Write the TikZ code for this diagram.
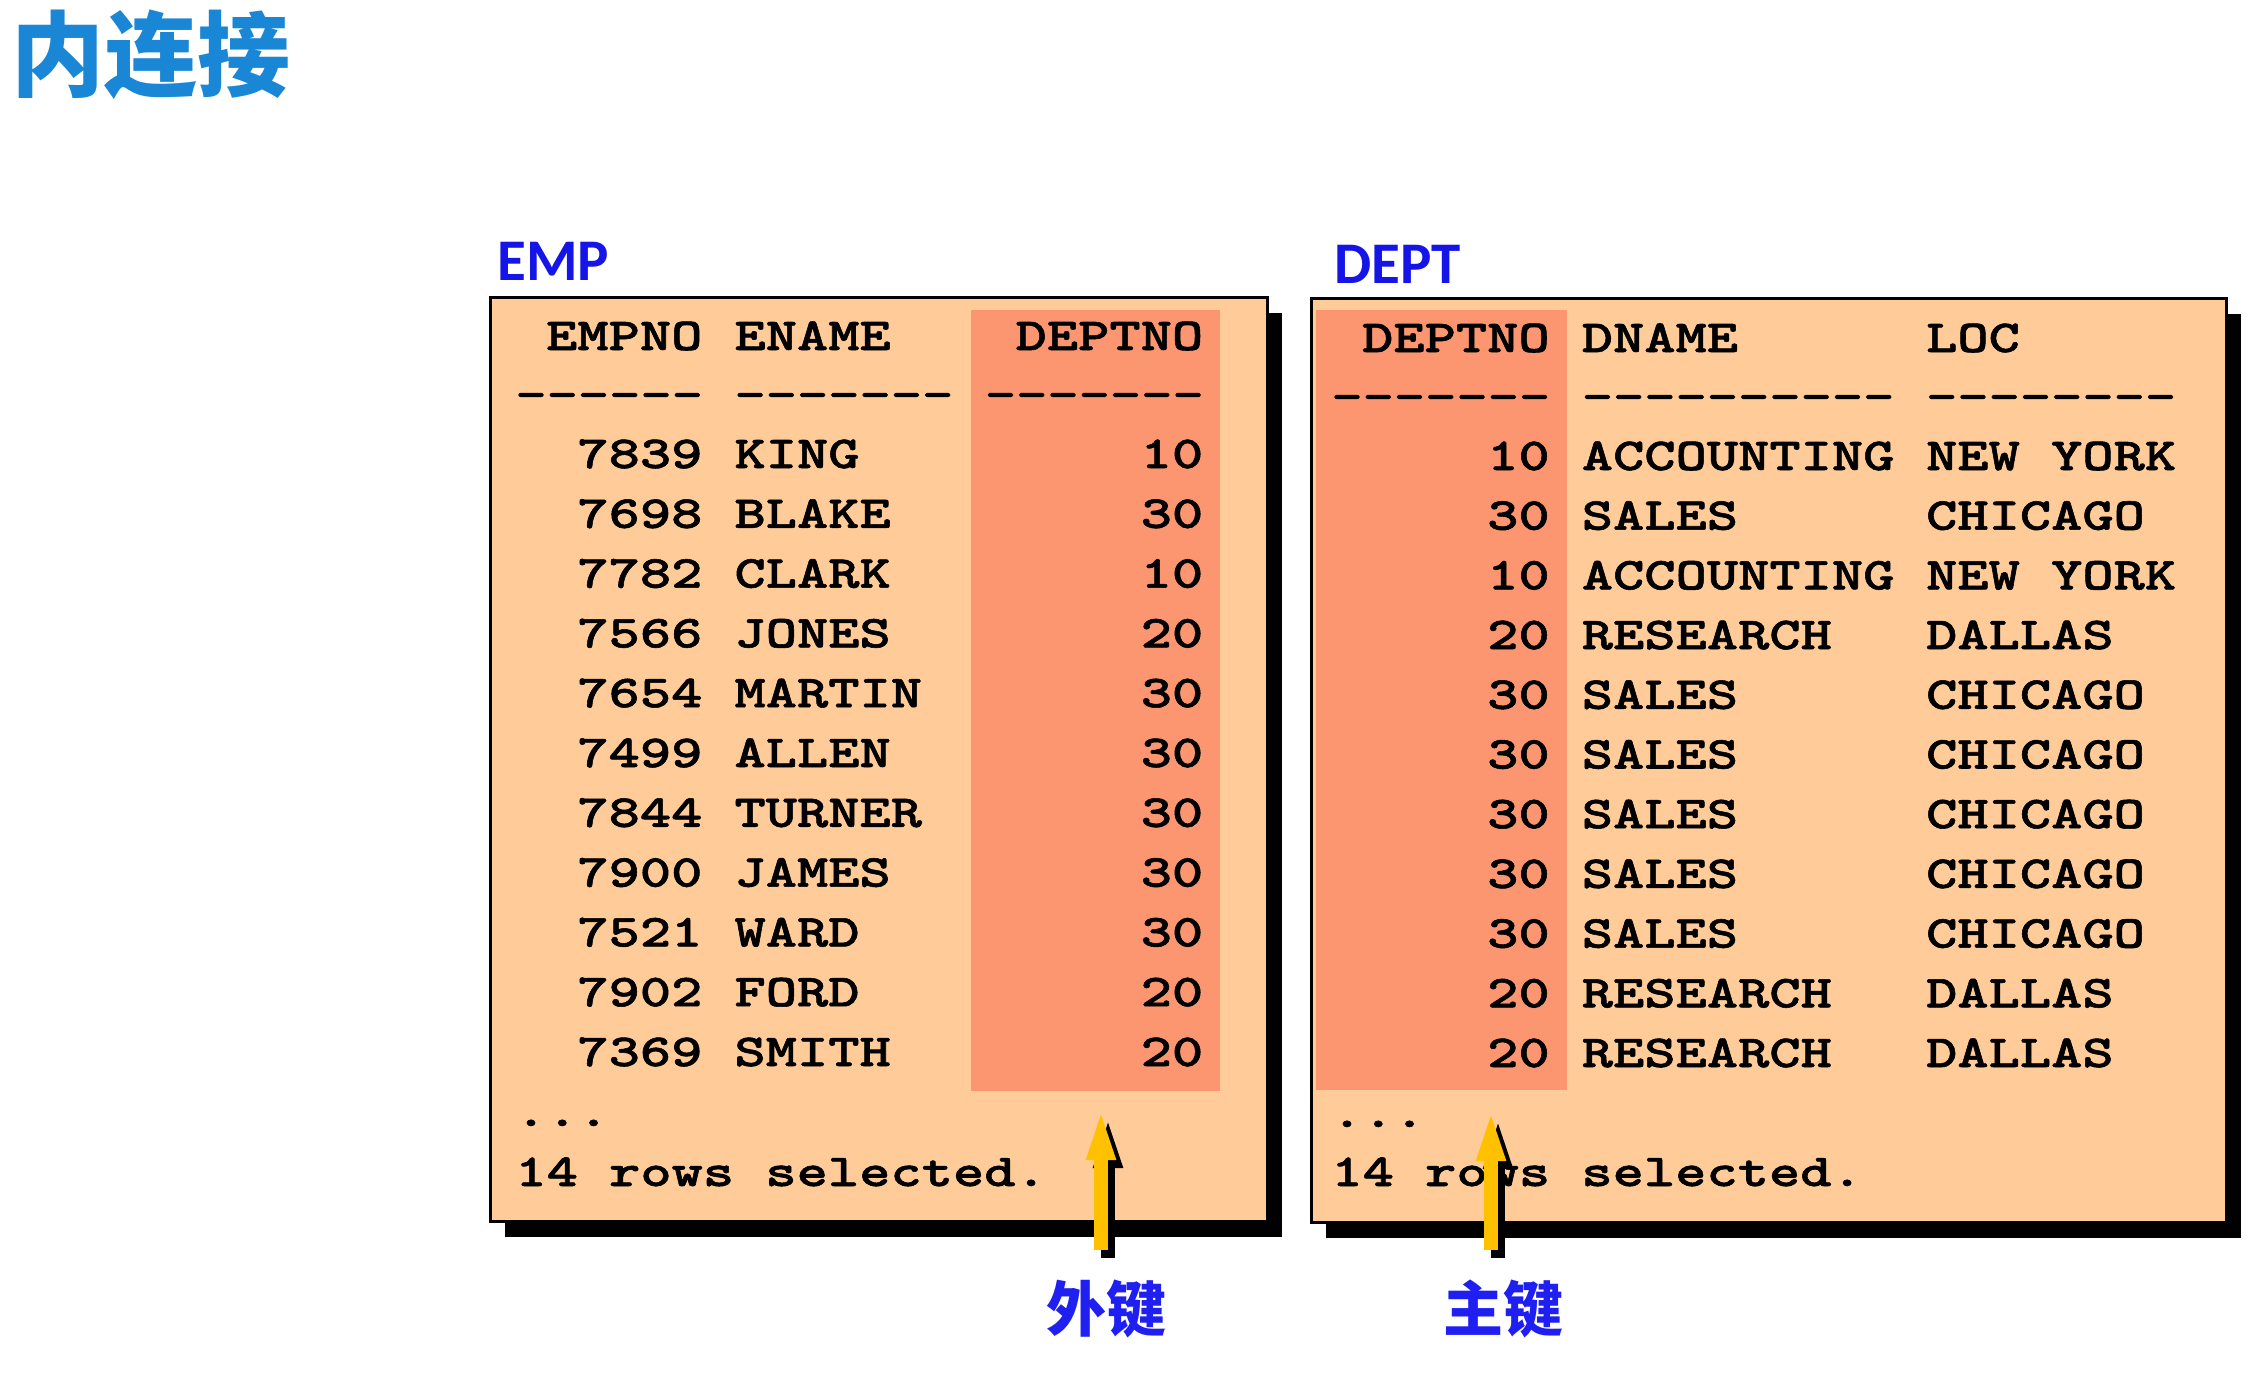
\documentclass[tikz,border=0pt]{standalone}
\usepackage{fontspec}
\usetikzlibrary{arrows.meta}
\newfontfamily\cjk{Noto Sans CJK SC}
\newfontfamily\carl{Carlito}
\newfontfamily\monob{lmmonolt10-bold.otf}[FakeStretch=1.3,FakeBold=1.2]
\definecolor{peach}{HTML}{FFCC99}
\definecolor{salmon}{HTML}{FB9670}
\definecolor{titleblue}{HTML}{1A86D6}
\definecolor{lblblue}{HTML}{1515E8}
\definecolor{keyblue}{HTML}{1F1FF2}
\definecolor{arrowyellow}{HTML}{FFC000}
\newcommand\dd{-\kern0pt}
\begin{document}
\begin{tikzpicture}[x=0.5pt,y=-0.5pt,
  mono/.style={inner sep=0pt, text=black, font=\monob\fontsize{22.9pt}{24pt}\selectfont},
  tablelabel/.style={inner sep=0pt, text=lblblue, font=\carl\bfseries\fontsize{29.5pt}{32pt}\selectfont, anchor=base west},
  keylabel/.style={inner sep=0pt, text=keyblue, font=\cjk\bfseries\fontsize{30pt}{32pt}\selectfont},
  tablebox/.style={fill=peach, draw=black, line width=1.5pt},
  shadowbox/.style={fill=black},
  keycol/.style={fill=salmon},
  keyarrow/.style={draw=arrowyellow, line width=7pt, -{Triangle[length=27.5pt,width=12.5pt]}},
  keyshadow/.style={keyarrow, draw=black, fill=black, transform canvas={xshift=3.5pt,yshift=-4pt}}
]
\useasboundingbox (0,0) rectangle (2252,1382);
\fill[white] (0,0) rectangle (2252,1382);

% title
\node[inner sep=0pt, text=titleblue, font=\cjk\bfseries\fontsize{46.5pt}{50pt}\selectfont] (title) at (151,55) {内连接};

% ---------- EMP table ----------
\node[tablelabel] (emplabel) at (497,280) {EMP};
\fill[shadowbox] (505,313) rectangle (1282,1237);
\path[tablebox] (490,297) rectangle (1267,1221);
\fill[keycol] (971,310) rectangle (1220,1091);
\draw[black, line width=1.5pt] (490,297) rectangle (1267,1221);

\node[mono, anchor=base east] (eh1) at (702.8,350) {EMPNO};
\node[mono, anchor=base west] (eh2) at (734.1,350) {ENAME};
\node[mono, anchor=base east] (eh3) at (1203.6,350) {DEPTNO};
\node[mono, anchor=base west] (ed1) at (515,409) {\dd\dd\dd\dd\dd\dd};
\node[mono, anchor=base west] (ed2) at (734.1,409) {\dd\dd\dd\dd\dd\dd\dd};
\node[mono, anchor=base west] (ed3) at (984.5,409) {\dd\dd\dd\dd\dd\dd\dd};
\foreach \no/\nm/\dn [count=\i from 0] in {7839/KING/10, 7698/BLAKE/30, 7782/CLARK/10, 7566/JONES/20, 7654/MARTIN/30, 7499/ALLEN/30, 7844/TURNER/30, 7900/JAMES/30, 7521/WARD/30, 7902/FORD/20, 7369/SMITH/20}{
  \pgfmathsetmacro\yy{468+59.8*\i}
  \node[mono, anchor=base east] (eno\i) at (702.8,\yy) {\no};
  \node[mono, anchor=base west] (enm\i) at (734.1,\yy) {\nm};
  \node[mono, anchor=base east] (edn\i) at (1203.6,\yy) {\dn};
}
\node[mono, anchor=base west] (edots) at (515,1126) {...};
\node[mono, anchor=base west] (erows) at (515,1186) {14 rows selected.};

% ---------- DEPT table ----------
\node[tablelabel] (deptlabel) at (1334,283) {DEPT};
\fill[shadowbox] (1326,314) rectangle (2241,1238);
\path[tablebox] (1311,298) rectangle (2226,1222);
\fill[keycol] (1316,310) rectangle (1567,1090);
\draw[black, line width=1.5pt] (1311,298) rectangle (2226,1222);

\node[mono, anchor=base east] (dh1) at (1550.1,352) {DEPTNO};
\node[mono, anchor=base west] (dh2) at (1581.4,352) {DNAME};
\node[mono, anchor=base west] (dh3) at (1925.7,352) {LOC};
\node[mono, anchor=base west] (dd1) at (1331,411) {\dd\dd\dd\dd\dd\dd\dd};
\node[mono, anchor=base west] (dd2) at (1581.4,411) {\dd\dd\dd\dd\dd\dd\dd\dd\dd\dd};
\node[mono, anchor=base west] (dd3) at (1925.7,411) {\dd\dd\dd\dd\dd\dd\dd\dd};
\foreach \dn/\nm/\lc [count=\i from 0] in {10/ACCOUNTING/NEW YORK, 30/SALES/CHICAGO, 10/ACCOUNTING/NEW YORK, 20/RESEARCH/DALLAS, 30/SALES/CHICAGO, 30/SALES/CHICAGO, 30/SALES/CHICAGO, 30/SALES/CHICAGO, 30/SALES/CHICAGO, 20/RESEARCH/DALLAS, 20/RESEARCH/DALLAS}{
  \pgfmathsetmacro\yy{470+59.7*\i}
  \node[mono, anchor=base east] (ddn\i) at (1550.1,\yy) {\dn};
  \node[mono, anchor=base west] (dnm\i) at (1581.4,\yy) {\nm};
  \node[mono, anchor=base west] (dlc\i) at (1925.7,\yy) {\lc};
}
\node[mono, anchor=base west] (ddots) at (1331,1127) {...};
\node[mono, anchor=base west] (drows) at (1331,1186) {14 rows selected.};

% ---------- key labels and arrows ----------
\node[keylabel] (fk) at (1106,1309) {外键};
\node[keylabel] (pk) at (1503,1309) {主键};
\coordinate (fkfoot) at (1101,1250);
\coordinate (fktip) at (1101,1105);
\coordinate (pkfoot) at (1491,1250);
\coordinate (pktip) at (1491,1106);
\draw[keyshadow] (fkfoot) -- (fktip);
\draw[keyarrow] (fkfoot) -- (fktip);
\draw[keyshadow] (pkfoot) -- (pktip);
\draw[keyarrow] (pkfoot) -- (pktip);
\end{tikzpicture}
\end{document}
